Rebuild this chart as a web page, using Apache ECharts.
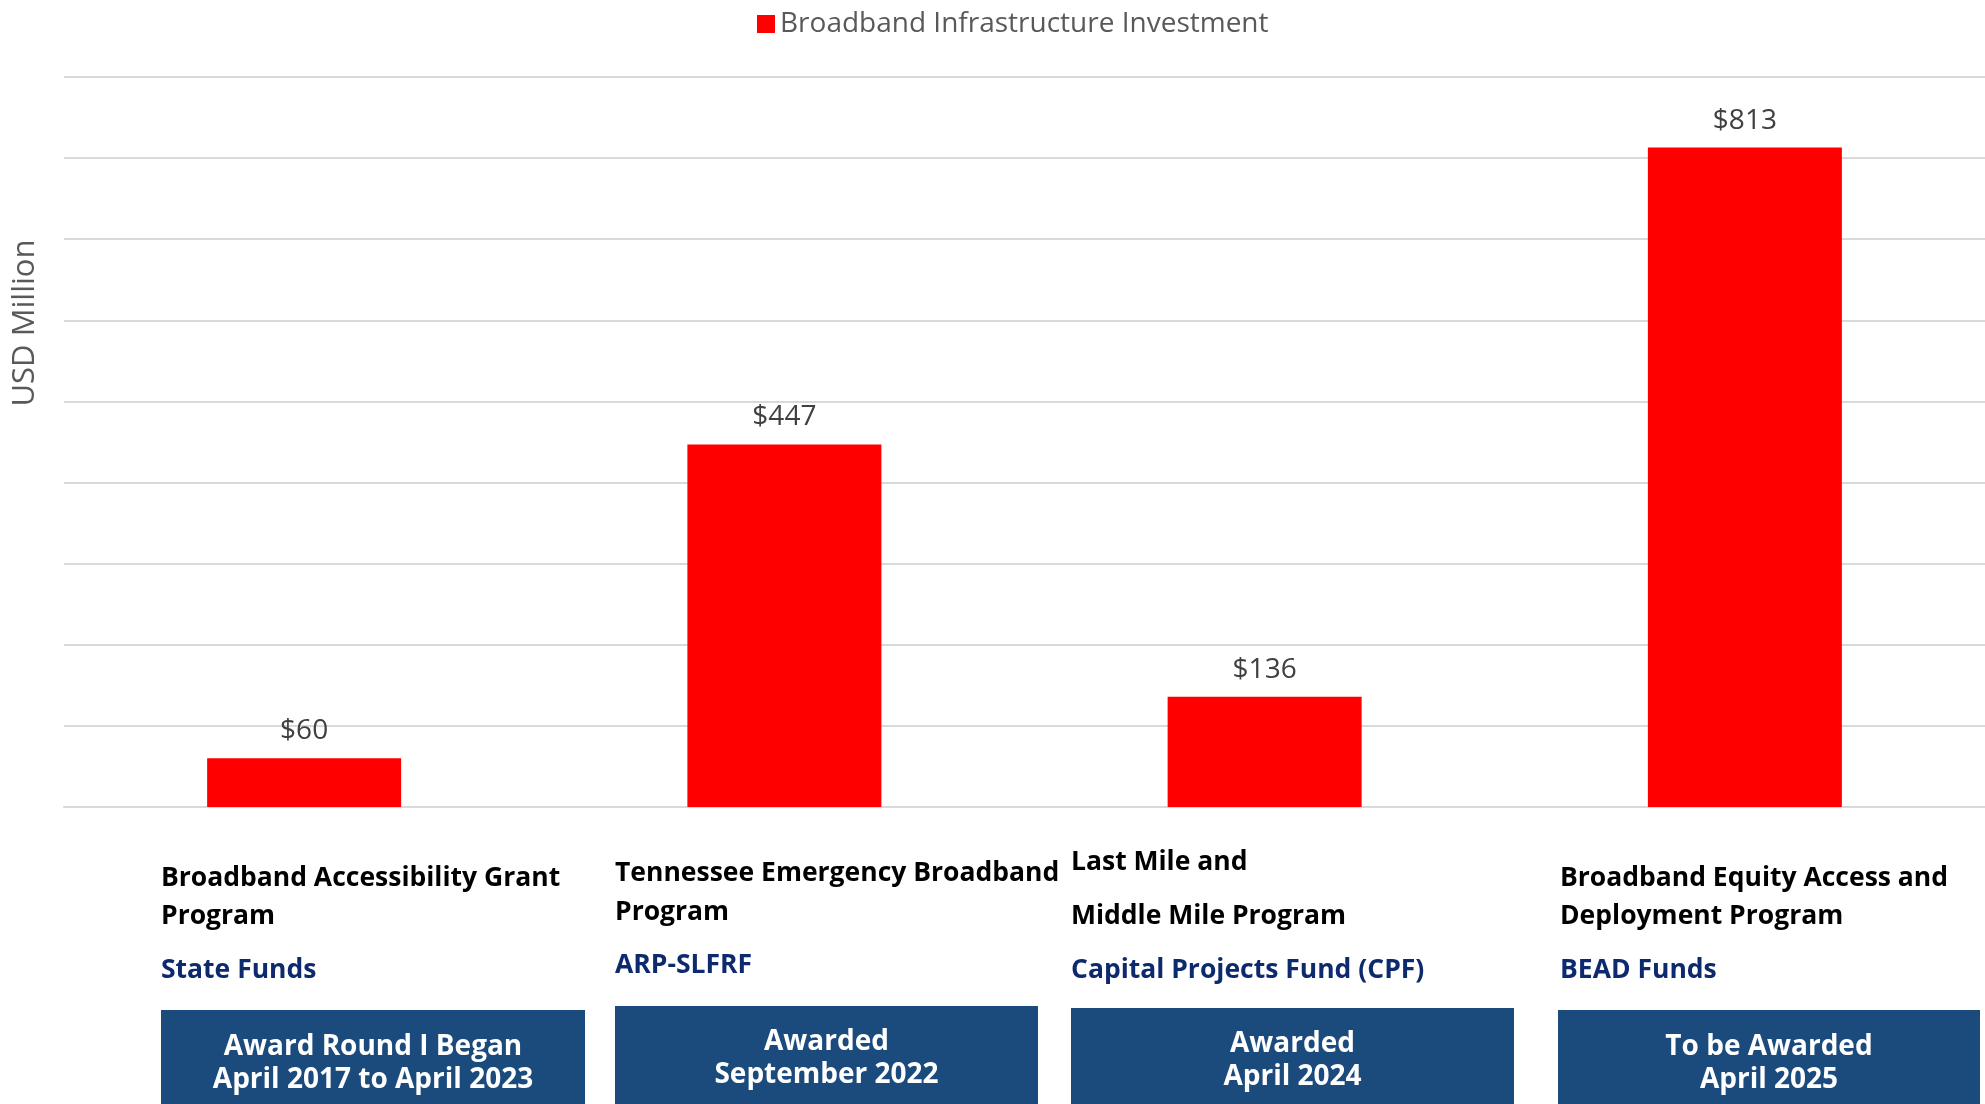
<!DOCTYPE html>
<html>
<head>
<meta charset="utf-8">
<script src="https://cdn.jsdelivr.net/npm/echarts@6/dist/echarts.min.js"></script>
<style>
  html, body { margin: 0; padding: 0; background: #fff; }
  #chart { width: 1985px; height: 1104px; }
</style>
</head>
<body>
<div id="chart"></div>
<script>
// data
const categories = ['Broadband Accessibility Grant Program', 'Tennessee Emergency Broadband Program', 'Last Mile and Middle Mile Program', 'Broadband Equity Access and Deployment Program'];
const investment = [60, 447, 136, 813];
const programLines = [
  ['Broadband Accessibility Grant', 'Program'],
  ['Tennessee Emergency Broadband', 'Program'],
  ['Last Mile and', 'Middle Mile Program'],
  ['Broadband Equity Access and', 'Deployment Program']
];
const fundNames = ['State Funds', 'ARP-SLFRF', 'Capital Projects Fund (CPF)', 'BEAD Funds'];
const awardLines = [
  ['Award Round I Began', 'April 2017 to April 2023'],
  ['Awarded', 'September 2022'],
  ['Awarded', 'April 2024'],
  ['To be Awarded', 'April 2025']
];

// layout of the text blocks under the bars
const blockLayout = [
  { x: 161, lines: [878, 916], fund: 970, box: [161, 585, 1010], award: [1047, 1080] },
  { x: 615, lines: [873, 912], fund: 965, box: [615, 1038, 1006], award: [1042, 1075] },
  { x: 1071, lines: [862, 916], fund: 970, box: [1071, 1514, 1008], award: [1044, 1077] },
  { x: 1560, lines: [878, 916], fund: 970, box: [1558, 1980, 1010], award: [1047, 1080] }
];

const FONT = '"Open Sans", sans-serif';

function buildGraphics() {
  let els = [];
  els.push({
    type: 'text',
    rotation: Math.PI / 2,
    x: 25, y: 323,
    style: { text: 'USD Million', fill: '#595959', font: '31px ' + FONT, textAlign: 'center', textVerticalAlign: 'middle' }
  });
  blockLayout.forEach((b, i) => {
    programLines[i].forEach((t, j) => {
      els.push({
        type: 'text',
        style: { text: t, x: b.x, y: b.lines[j], fill: '#000', font: 'bold 26.5px ' + FONT, textVerticalAlign: 'middle' }
      });
    });
    els.push({
      type: 'text',
      style: { text: fundNames[i], x: b.x, y: b.fund, fill: '#0e2a6e', font: 'bold 26.5px ' + FONT, textVerticalAlign: 'middle' }
    });
    els.push({
      type: 'rect',
      shape: { x: b.box[0], y: b.box[2], width: b.box[1] - b.box[0], height: 1104 - b.box[2] + 10 },
      style: { fill: '#1b4a7c' }
    });
    awardLines[i].forEach((t, j) => {
      els.push({
        type: 'text',
        style: { text: t, x: (b.box[0] + b.box[1]) / 2, y: b.award[j], fill: '#fff', font: 'bold 28px ' + FONT, textAlign: 'center', textVerticalAlign: 'middle' }
      });
    });
  });
  return els;
}

let chart = echarts.init(document.getElementById('chart'));
let option = {
  animation: false,
  textStyle: { fontFamily: FONT },
  legend: {
    top: 5,
    left: 752,
    itemWidth: 18,
    itemHeight: 18,
    icon: 'rect',
    textStyle: { fontSize: 28, color: '#595959' },
    data: ['Broadband Infrastructure Investment']
  },
  grid: { left: 64, width: 1924, top: 77, bottom: 297 },
  xAxis: {
    type: 'category',
    data: categories,
    axisLine: { lineStyle: { color: '#d9d9d9', width: 2 } },
    axisTick: { show: false },
    axisLabel: { show: false }
  },
  yAxis: {
    type: 'value',
    min: 0,
    max: 900,
    interval: 100,
    axisLabel: { show: false },
    axisLine: { show: false },
    splitLine: { lineStyle: { color: '#d9d9d9', width: 2 } }
  },
  series: [{
    name: 'Broadband Infrastructure Investment',
    type: 'bar',
    data: investment,
    barWidth: 194,
    itemStyle: { color: '#ff0000' },
    label: {
      show: true,
      position: 'top',
      distance: 13,
      color: '#404040',
      fontSize: 28,
      formatter: p => '$' + p.value
    }
  }],
  graphic: buildGraphics()
};
chart.setOption(option);
</script>
</body>
</html>
